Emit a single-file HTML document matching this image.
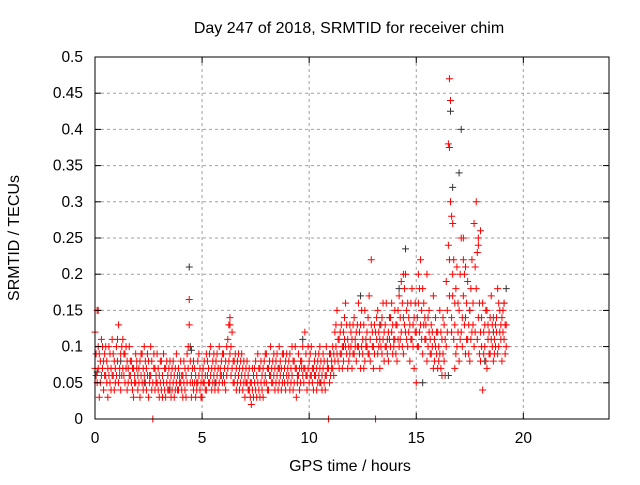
<!DOCTYPE html>
<html><head><meta charset="utf-8"><style>
body{margin:0;background:#fff}
svg text{font-family:"Liberation Sans",sans-serif;font-size:15.5px;fill:#000}
svg text.big{font-size:16px}
</style></head><body>
<svg id="chart" width="640" height="480" xmlns="http://www.w3.org/2000/svg">
<rect width="640" height="480" fill="#fff"/>
<g id="grid"></g><g id="pts"></g><g id="axes"></g>
</svg>
<script>
const xTicks=[0,5,10,15,20];
const yTicks=[0,0.05,0.1,0.15,0.2,0.25,0.3,0.35,0.4,0.45,0.5];
const yTickLabels=["0","0.05","0.1","0.15","0.2","0.25","0.3","0.35","0.4","0.45","0.5"];
const redSamples=[
[0.0,.07,.12],[.1,.15,.05],[.2,.03,.09],[.3,.11,.06],[.4,.08,.04],[.5,.10,.06],[.6,.07,.03],[.7,.09,.05],[.8,.11,.06],[.9,.08,.04],
[1.0,.06,.10],[1.1,.13,.05],[1.2,.09,.04],[1.3,.07,.11],[1.4,.05,.09],[1.5,.08,.04],[1.6,.10,.06],[1.7,.05,.08],[1.8,.03,.07],[1.9,.09,.05],
[2.0,.06,.04],[2.1,.08,.03],[2.2,.05,.09],[2.3,.10,.06],[2.4,.04,.07],[2.5,.08,.03],[2.6,.06,.10],[2.7,0,.05],[2.8,.07,.04],[2.9,.09,.05],
[3.0,.06,.03],[3.1,.08,.04],[3.2,.05,.09],[3.3,.03,.07],[3.4,.06,.04],[3.5,.08,.05],[3.6,.04,.07],[3.7,.06,.03],[3.8,.05,.09],[3.9,.07,.04],
[4.0,.05,.08],[4.1,.03,.06],[4.2,.07,.04],[4.3,.09,.05],[4.4,.165,.13],[4.5,.06,.03],[4.6,.04,.08],[4.7,.06,.03],[4.8,.08,.05],[4.9,.04,.07],
[5.0,.06,.03],[5.1,.08,.05],[5.2,.04,.09],[5.3,.07,.05],[5.4,.10,.06],[5.5,.05,.08],[5.6,.07,.04],[5.7,.09,.06],[5.8,.05,.10],[5.9,.08,.06],
[6.0,.06,.09],[6.1,.04,.08],[6.2,.11,.07],[6.3,.14,.09],[6.4,.12,.07],[6.5,.05,.08],[6.6,.07,.04],[6.7,.09,.06],[6.8,.05,.08],[6.9,.07,.04],
[7.0,.03,.06],[7.1,.08,.05],[7.2,.04,.07],[7.3,.02,.05],[7.4,.06,.03],[7.5,.08,.04],[7.6,.05,.09],[7.7,.03,.07],[7.8,.06,.04],[7.9,.08,.05],
[8.0,.05,.09],[8.1,.07,.04],[8.2,.10,.06],[8.3,.05,.08],[8.4,.07,.04],[8.5,.09,.06],[8.6,.05,.10],[8.7,.07,.04],[8.8,.06,.09],[8.9,.04,.08],
[9.0,.07,.05],[9.1,.09,.04],[9.2,.06,.10],[9.3,.05,.08],[9.4,.07,.03],[9.5,.09,.06],[9.6,.05,.08],[9.7,.10,.06],[9.8,.12,.07],[9.9,.06,.04],
[10.0,.08,.05],[10.1,.06,.10],[10.2,.04,.07],[10.3,.09,.06],[10.4,.05,.08],[10.5,.07,.10],[10.6,.04,.06],[10.7,.08,.05],[10.8,.10,.06],[10.9,0,.07],
[11.0,.06,.09],[11.1,.10,.07],[11.2,.12,.08],[11.3,.09,.15],[11.4,.11,.07],[11.5,.13,.09],[11.6,.08,.12],[11.7,.10,.16],[11.8,.07,.11],[11.9,.09,.13],
[12.0,.11,.07],[12.1,.14,.09],[12.2,.08,.12],[12.3,.10,.16],[12.4,.07,.13],[12.5,.11,.09],[12.6,.15,.08],[12.7,.12,.10],[12.8,.09,.17],[12.9,.22,.13],
[13.0,.10,.07],[13.1,0,.12],[13.2,.09,.15],[13.3,.11,.07],[13.4,.14,.09],[13.5,.08,.12],[13.6,.16,.10],[13.7,.12,.08],[13.8,.10,.14],[13.9,.13,.09],
[14.0,.11,.15],[14.1,.08,.13],[14.2,.17,.10],[14.3,.12,.19],[14.4,.09,.14],[14.5,.20,.12],[14.6,.10,.16],[14.7,.13,.08],[14.8,.18,.11],[14.9,.07,.14],
[15.0,.12,.05],[15.1,.16,.10],[15.2,.22,.13],[15.3,.09,.18],[15.4,.14,.11],[15.5,.20,.08],[15.6,.12,.15],[15.7,.09,.13],[15.8,.17,.07],[15.9,.10,.14],
[16.0,.07,.12],[16.1,.15,.09],[16.2,.06,.11],[16.3,.13,.08],[16.4,.19,.10],[16.5,.38,.24],[16.6,.44,.30],[16.7,.27,.17],[16.8,.13,.07],[16.9,.21,.10],
[17.0,.15,.08],[17.1,.25,.12],[17.2,.22,.17],[17.3,.14,.09],[17.4,.19,.11],[17.5,.08,.15],[17.6,.22,.12],[17.7,.27,.10],[17.8,.30,.18],[17.9,.25,.14],
[18.0,.12,.08],[18.1,.16,.04],[18.2,.10,.13],[18.3,.07,.15],[18.4,.12,.09],[18.5,.17,.11],[18.6,.08,.14],[18.7,.13,.10],[18.8,.18,.09],[18.9,.12,.15],
[19.0,.14,.08],[19.1,.16,.11],[19.2,.13,.10]];
const redSamples2=[
[.05,.09,.06],[.15,.10,.07],[.25,.05,.08],[.35,.07,.10],[.45,.06,.09],[.55,.08,.05],[.65,.10,.06],[.75,.07,.04],[.85,.09,.06],[.95,.05,.07],
[1.05,.08,.11],[1.15,.07,.06],[1.25,.10,.06],[1.35,.06,.09],[1.45,.07,.10],[1.55,.05,.07],[1.65,.08,.06],[1.75,.07,.04],[1.85,.06,.05],[1.95,.07,.08],
[2.05,.05,.07],[2.15,.06,.09],[2.25,.07,.04],[2.35,.08,.05],[2.45,.06,.09],[2.55,.05,.06],[2.65,.08,.04],[2.75,.07,.09],[2.85,.05,.06],[2.95,.07,.04],
[3.05,.05,.08],[3.15,.06,.03],[3.25,.07,.04],[3.35,.05,.08],[3.45,.04,.07],[3.55,.06,.03],[3.65,.05,.08],[3.75,.04,.07],[3.85,.06,.04],[3.95,.05,.06],
[4.05,.06,.04],[4.15,.05,.08],[4.25,.06,.03],[4.35,.07,.10],[4.45,.08,.05],[4.55,.05,.07],[4.65,.07,.05],[4.75,.05,.04],[4.85,.06,.09],[4.95,.05,.03],
[5.05,.07,.05],[5.15,.06,.04],[5.25,.06,.08],[5.35,.05,.09],[5.45,.07,.04],[5.55,.06,.09],[5.65,.05,.08],[5.75,.07,.04],[5.85,.07,.06],[5.95,.05,.09],
[6.05,.07,.05],[6.15,.06,.10],[6.25,.08,.13],[6.35,.10,.06],[6.45,.08,.05],[6.55,.06,.09],[6.65,.08,.05],[6.75,.07,.04],[6.85,.06,.09],[6.95,.05,.08],
[7.05,.05,.07],[7.15,.06,.04],[7.25,.05,.03],[7.35,.07,.04],[7.45,.05,.07],[7.55,.06,.03],[7.65,.07,.04],[7.75,.05,.08],[7.85,.07,.03],[7.95,.06,.09],
[8.05,.07,.04],[8.15,.06,.08],[8.25,.07,.05],[8.35,.06,.09],[8.45,.08,.05],[8.55,.07,.04],[8.65,.08,.06],[8.75,.05,.09],[8.85,.07,.05],[8.95,.06,.09],
[9.05,.06,.08],[9.15,.07,.05],[9.25,.08,.04],[9.35,.07,.10],[9.45,.06,.05],[9.55,.07,.04],[9.65,.08,.07],[9.75,.07,.05],[9.85,.09,.06],[9.95,.07,.10],
[10.05,.06,.09],[10.15,.07,.05],[10.25,.08,.06],[10.35,.07,.04],[10.45,.06,.09],[10.55,.08,.05],[10.65,.07,.09],[10.75,.06,.04],[10.85,.08,.07],[10.95,.05,.09],
[11.05,.08,.07],[11.15,.09,.06],[11.25,.10,.13],[11.35,.11,.08],[11.45,.09,.12],[11.55,.10,.07],[11.65,.11,.14],[11.75,.13,.09],[11.85,.10,.08],[11.95,.12,.10],
[12.05,.09,.13],[12.15,.11,.10],[12.25,.13,.10],[12.35,.12,.09],[12.45,.10,.15],[12.55,.13,.07],[12.65,.10,.11],[12.75,.14,.09],[12.85,.11,.08],[12.95,.12,.10],
[13.05,.13,.09],[13.15,.11,.14],[13.25,.12,.10],[13.35,.10,.13],[13.45,.11,.16],[13.55,.13,.10],[13.65,.11,.09],[13.75,.14,.11],[13.85,.12,.16],[13.95,.11,.10],
[14.05,.13,.09],[14.15,.11,.15],[14.25,.14,.11],[14.35,.16,.10],[14.45,.13,.18],[14.55,.15,.11],[14.65,.12,.14],[14.75,.11,.16],[14.85,.13,.10],[14.95,.12,.16],
[15.05,.14,.10],[15.15,.12,.18],[15.25,.15,.11],[15.35,.13,.16],[15.45,.11,.13],[15.55,.14,.10],[15.65,.11,.09],[15.75,.12,.10],[15.85,.08,.11],[15.95,.12,.09],
[16.05,.10,.08],[16.15,.12,.07],[16.25,.09,.14],[16.35,.11,.06],[16.45,.15,.12],[16.55,.22,.17],[16.65,.14,.12],[16.75,.22,.11],[16.85,.18,.09],[16.95,.12,.16],
[17.05,.20,.11],[17.15,.14,.10],[17.25,.20,.13],[17.35,.11,.16],[17.45,.13,.09],[17.55,.11,.18],[17.65,.16,.13],[17.75,.12,.21],[17.85,.23,.11],[17.95,.16,.09],
[18.05,.10,.14],[18.15,.12,.09],[18.25,.15,.08],[18.35,.11,.13],[18.45,.09,.14],[18.55,.13,.10],[18.65,.11,.09],[18.75,.14,.12],[18.85,.10,.16],[18.95,.11,.13],
[19.05,.12,.15],[19.15,.13,.09]];
const redExtraX=[16.55,16.6,16.55,16.65,16.7,16.8,17.2,17.3,17.9,18.0,0.15,6.3,14.4,15.1];
const redExtraY=[0.47,0.44,0.375,0.28,0.2,0.16,0.25,0.21,0.24,0.26,0.15,0.13,0.2,0.2];
const blackX=[0.1,1.2,2.3,3.5,4.4,4.45,4.5,5.6,7.2,8.6,9.7,10.5,11.6,12.4,13.3,14.5,14.2,15.3,16.5,16.6,16.7,17.0,17.1,17.5,18.2,18.6,19.1,19.2];
const blackY=[0.065,0.08,0.05,0.04,0.21,0.1,0.095,0.05,0.04,0.07,0.11,0.05,0.1,0.17,0.13,0.235,0.18,0.05,0.06,0.425,0.32,0.34,0.4,0.15,0.08,0.12,0.16,0.18];
const L=95,R=609,T=57,B=419;
const xs=v=>L+v*(R-L)/24, ys=v=>B-v*(B-T)/0.5;
const NS="http://www.w3.org/2000/svg";
function mk(p,t,a){const e=document.createElementNS(NS,t);for(const k in a)e.setAttribute(k,a[k]);p.appendChild(e);return e;}
const g=document.getElementById('grid'),ax=document.getElementById('axes'),pts=document.getElementById('pts');
xTicks.forEach(v=>{
 if(v>0){const l=mk(g,'line',{x1:xs(v),x2:xs(v),y1:T,y2:B,stroke:'#a0a0a0','stroke-dasharray':'3,3'});
 
 }
 mk(ax,'line',{x1:xs(v),x2:xs(v),y1:B,y2:B-6,stroke:'#000'});
 mk(ax,'line',{x1:xs(v),x2:xs(v),y1:T,y2:T+6,stroke:'#000'});
 const t=mk(ax,'text',{x:xs(v),y:B+24,'text-anchor':'middle'});t.textContent=v;
 
 
});
yTicks.forEach((v,i)=>{
 if(v>0&&v<0.5){const l=mk(g,'line',{x1:L,x2:R,y1:ys(v),y2:ys(v),stroke:'#a0a0a0','stroke-dasharray':'3,3'});
 
 }
 mk(ax,'line',{x1:L,x2:L+6,y1:ys(v),y2:ys(v),stroke:'#000'});
 mk(ax,'line',{x1:R,x2:R-6,y1:ys(v),y2:ys(v),stroke:'#000'});
 const t=mk(ax,'text',{x:L-12,y:ys(v)+5,'text-anchor':'end'});t.textContent=yTickLabels[i];
 
 
});
const fr=mk(ax,'rect',{x:L,y:T,width:R-L,height:B-T,fill:'none',stroke:'#000'});


function cross(x,y,c){return mk(pts,'path',{d:`M${xs(x)-3.5},${ys(y)}h7M${xs(x)},${ys(y)-3.5}v7`,stroke:c,'stroke-width':1});}
blackX.forEach((x,i)=>{const p=cross(x,blackY[i],'#333');
 
 });
redSamples.concat(redSamples2).forEach(s=>{[s[1],s[2]].forEach(v=>{const p=cross(s[0],v,'#f00');
 
 });});
redExtraX.forEach((x,i)=>{const p=cross(x,redExtraY[i],'#f00');
 
 });
const svg=document.getElementById('chart');
const tt=mk(svg,'text',{x:349,y:33,'text-anchor':'middle','class':'big'});tt.textContent='Day 247 of 2018, SRMTID for receiver chim';


const xt=mk(svg,'text',{x:350,y:471,'text-anchor':'middle','class':'big'});xt.textContent='GPS time / hours';


const yt=mk(svg,'text',{x:0,y:0,'text-anchor':'middle','class':'big',transform:'translate(19,238) rotate(-90)'});yt.textContent='SRMTID / TECUs';


</script>
</body></html>
